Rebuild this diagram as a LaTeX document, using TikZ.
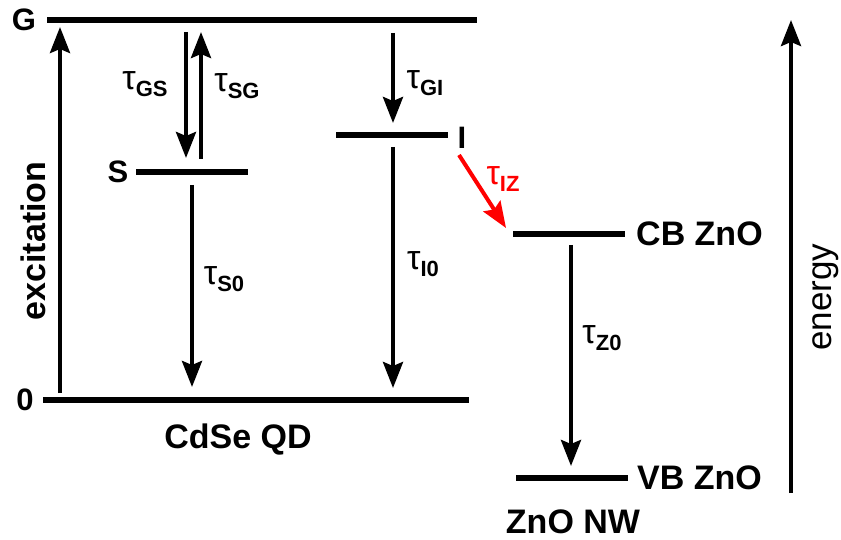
\documentclass[tikz,border=0pt]{standalone}
\usepackage{fontspec}
\setmainfont{Liberation Sans}
\usetikzlibrary{arrows.meta}
\newcommand{\tlab}[1]{{\fontsize{34}{34}\selectfont τ}{\fontsize{22}{22}\selectfont\bfseries\raisebox{-7pt}{#1}}}

\begin{document}
\begin{tikzpicture}[x=1pt, y=-1pt,
    level/.style={line width=6pt},
    trans/.style={line width=4pt, -{Stealth[length=26pt, width=20pt, inset=4pt]}},
    biglbl/.style={font=\fontsize{34}{34}\selectfont\bfseries, inner sep=0pt},
    lvllbl/.style={font=\fontsize{31}{31}\selectfont\bfseries, inner sep=0pt},
    taulbl/.style={inner sep=0pt}]
    \useasboundingbox (0,0) rectangle (841,540);

    % CdSe QD levels
    \coordinate (Gl) at (47,20);   \coordinate (Gr) at (477,20);
    \coordinate (Sl) at (136,172); \coordinate (Sr) at (248,172);
    \coordinate (Il) at (336,135); \coordinate (Ir) at (448,135);
    \coordinate (Zl) at (43,400);  \coordinate (Zr) at (469,400);
    \draw[level] (Gl) -- (Gr);
    \draw[level] (Sl) -- (Sr);
    \draw[level] (Il) -- (Ir);
    \draw[level] (Zl) -- (Zr);
    \node[lvllbl] (G) at (24,20) {G};
    \node[lvllbl] (S) at (118,172) {S};
    \node[lvllbl] (I) at (462,138) {I};
    \node[lvllbl] (O) at (25,400) {0};
    \node[biglbl] (qd) at (238,440) {CdSe QD};

    % ZnO levels
    \coordinate (CBl) at (513,234); \coordinate (CBr) at (625,234);
    \coordinate (VBl) at (516,478); \coordinate (VBr) at (628,478);
    \draw[level] (CBl) -- (CBr);
    \draw[level] (VBl) -- (VBr);
    \node[biglbl, anchor=west] (cb) at (636,234) {CB ZnO};
    \node[biglbl, anchor=west] (vb) at (637,478) {VB ZnO};
    \node[biglbl] (nw) at (573,522) {ZnO NW};

    % excitation
    \coordinate (ex0) at (60,393); \coordinate (ex1) at (60,27);
    \draw[trans] (ex0) -- (ex1);
    \node[biglbl, rotate=90] (exc) at (33,241) {excitation};

    % transitions G <-> S, S -> 0
    \coordinate (gs0) at (186,32);  \coordinate (gs1) at (186,158);
    \coordinate (sg0) at (201,159); \coordinate (sg1) at (201,32);
    \coordinate (s00) at (192,185); \coordinate (s01) at (192,387);
    \draw[trans] (gs0) -- (gs1);
    \draw[trans] (sg0) -- (sg1);
    \draw[trans] (s00) -- (s01);
    \node[taulbl] (tgs) at (145,84) {\tlab{GS}};
    \node[taulbl] (tsg) at (237,86) {\tlab{SG}};
    \node[taulbl] (ts0) at (224,279) {\tlab{S0}};

    % transitions G -> I, I -> 0
    \coordinate (gi0) at (393,33);  \coordinate (gi1) at (393,123);
    \coordinate (i00) at (393,147); \coordinate (i01) at (393,388);
    \draw[trans] (gi0) -- (gi1);
    \draw[trans] (i00) -- (i01);
    \node[taulbl] (tgi) at (425,83) {\tlab{GI}};
    \node[taulbl] (ti0) at (423,264) {\tlab{I0}};

    % injection I -> CB ZnO
    \coordinate (iz0) at (459,155); \coordinate (iz1) at (506,228);
    \draw[trans, red] (iz0) -- (iz1);
    \node[taulbl, red] (tiz) at (503,179) {\tlab{IZ}};

    % ZnO recombination
    \coordinate (z00) at (571,245); \coordinate (z01) at (571,466);
    \draw[trans] (z00) -- (z01);
    \node[taulbl] (tz0) at (602,338) {\tlab{Z0}};

    % energy axis
    \coordinate (en0) at (791,493); \coordinate (en1) at (791,20);
    \draw[trans] (en0) -- (en1);
    \node[font=\fontsize{35}{35}\selectfont, rotate=90, inner sep=0pt] (en) at (826,297) {energy};
\end{tikzpicture}
\end{document}
